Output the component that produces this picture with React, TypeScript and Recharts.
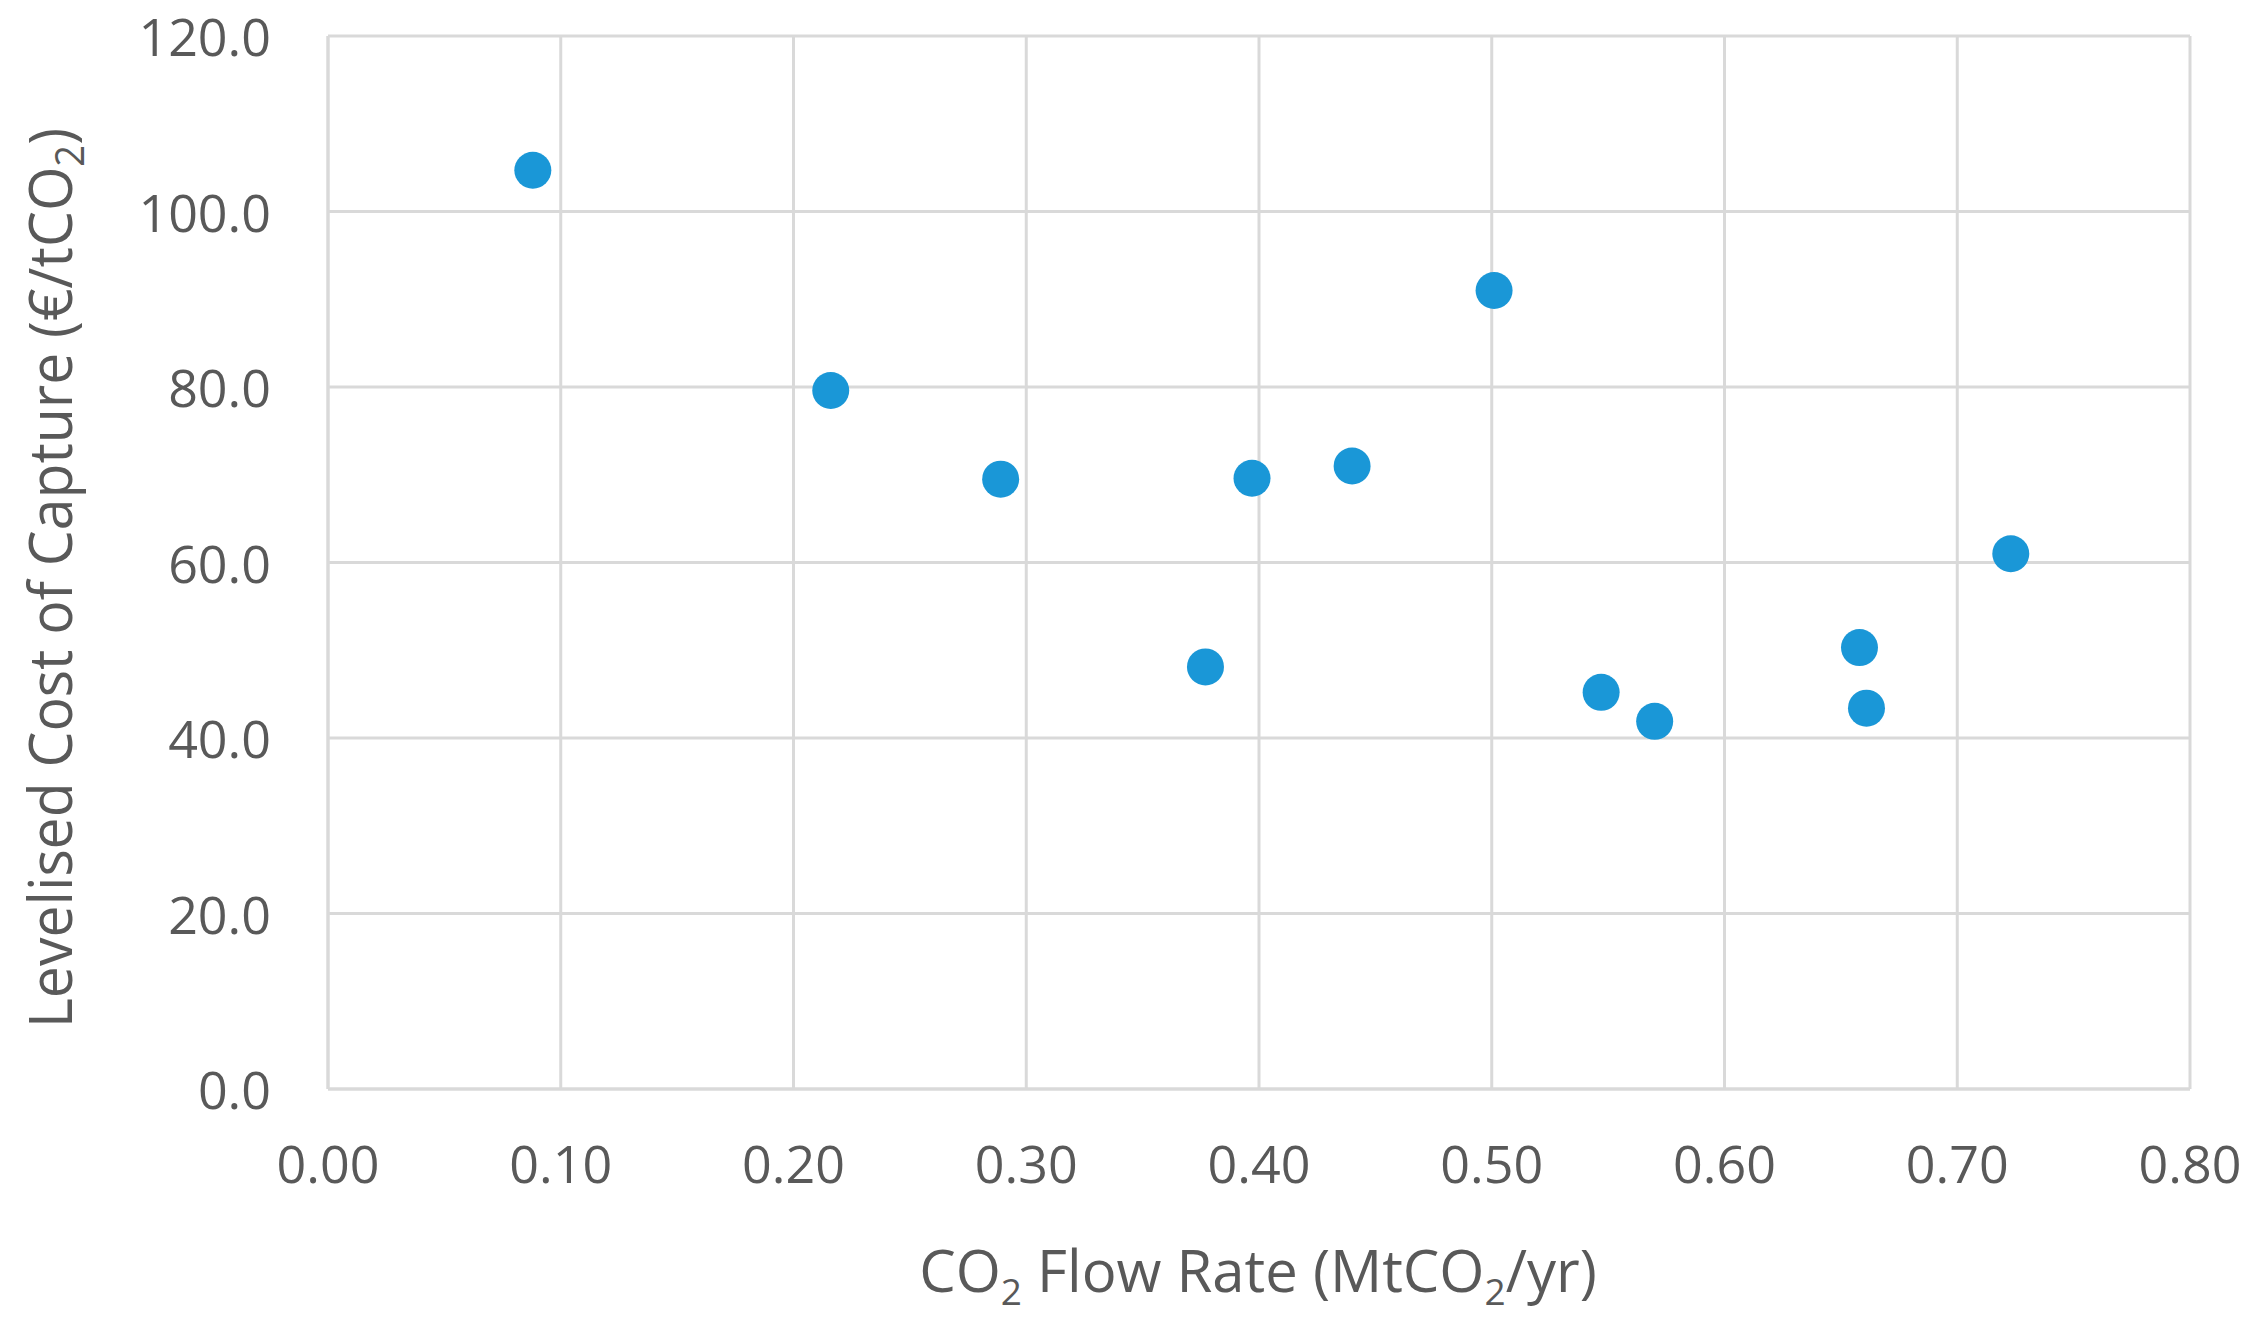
import React from "react";
import {
  ScatterChart,
  Scatter,
  XAxis,
  YAxis,
  CartesianGrid,
} from "recharts";

// values
const flowRate = [0.088, 0.216, 0.289, 0.377, 0.397, 0.44, 0.501, 0.547, 0.57, 0.658, 0.661, 0.723];
const levelisedCost = [104.7, 79.6, 69.5, 48.1, 69.6, 71.0, 91.0, 45.2, 41.9, 50.3, 43.4, 61.0];

const xTicks = [0, 0.1, 0.2, 0.3, 0.4, 0.5, 0.6, 0.7, 0.8];
const yTicks = [0, 20, 40, 60, 80, 100, 120];

const data = flowRate.map((x, i) => ({ x, y: levelisedCost[i] }));

const FONT = "'Open Sans', sans-serif";
const TEXT = "#595959";
const GRID = "#d9d9d9";
const DOT = "#1a97d7";

const XTick = ({ x, y, payload }: any) => (
  <text x={x} y={y + 92} textAnchor="middle" fontFamily={FONT} fontSize={52} fill={TEXT}>
    {payload.value.toFixed(2)}
  </text>
);

const YTick = ({ x, y, payload }: any) => (
  <text x={x - 55} y={y + 20} textAnchor="end" fontFamily={FONT} fontSize={52} fill={TEXT}>
    {payload.value.toFixed(1)}
  </text>
);

const Dot = (props: any) => <circle cx={props.cx} cy={props.cy} r={18.5} fill={DOT} />;

export default function App() {
  // pull the chart over the body margin so it covers the whole page
  return (
    <div style={{ width: 2256, height: 1329, margin: "-8px 0 0 -8px" }}>
      <ScatterChart
        width={2256}
        height={1329}
        margin={{ top: 36, right: 66, left: 0, bottom: 0 }}
      >
        <CartesianGrid stroke={GRID} strokeWidth={3} />
        <XAxis
          type="number"
          dataKey="x"
          domain={[0, 0.8]}
          ticks={xTicks}
          tick={<XTick />}
          tickLine={false}
          tickSize={0}
          axisLine={{ stroke: GRID, strokeWidth: 3 }}
          height={240}
          interval={0}
        />
        <YAxis
          type="number"
          dataKey="y"
          domain={[0, 120]}
          ticks={yTicks}
          tick={<YTick />}
          tickLine={false}
          tickSize={0}
          axisLine={{ stroke: GRID, strokeWidth: 3 }}
          width={328}
          interval={0}
        />
        <Scatter data={data} shape={<Dot />} isAnimationActive={false} />

        {/* axis titles with subscripts */}
        <text
          x={1258}
          y={1292}
          textAnchor="middle"
          fontFamily={FONT}
          fontSize={58}
          fill={TEXT}
        >
          CO<tspan fontSize={37} dy={13}>2</tspan>
          <tspan dy={-13}> Flow Rate (MtCO</tspan>
          <tspan fontSize={37} dy={13}>2</tspan>
          <tspan dy={-13}>/yr)</tspan>
        </text>
        <text
          x={72}
          y={578}
          transform="rotate(-90, 72, 578)"
          textAnchor="middle"
          fontFamily={FONT}
          fontSize={60}
          fill={TEXT}
          textLength={900}
          lengthAdjust="spacingAndGlyphs"
        >
          Levelised Cost of Capture (€/tCO<tspan fontSize={40} dy={12}>2</tspan>
          <tspan dy={-12}>)</tspan>
        </text>
      </ScatterChart>
    </div>
  );
}
